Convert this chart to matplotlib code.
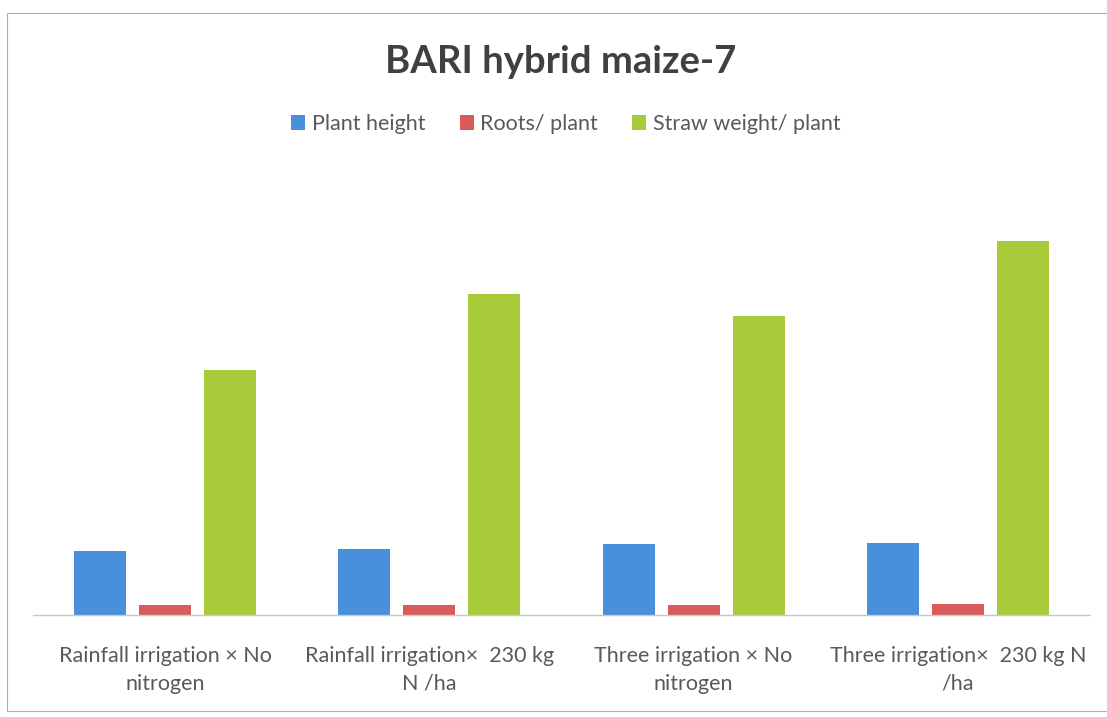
import matplotlib.pyplot as plt
import numpy as np
from matplotlib.patches import Rectangle

plt.rcParams['font.family'] = ['Lato', 'DejaVu Sans']

categories = ["Rainfall irrigation × No\nnitrogen",
              "Rainfall irrigation×  230 kg\nN /ha",
              "Three irrigation × No\nnitrogen",
              "Three irrigation×  230 kg N\n/ha"]
series = ["Plant height", "Roots/ plant", "Straw weight/ plant"]
plant_height = [64, 66, 71, 72]
roots_plant = [10, 10, 10, 11]
straw_weight = [245, 321, 299, 374]
colors = ["#4a8fdc", "#d95b5b", "#a8cb3c"]

fig = plt.figure(figsize=(11.07, 7.17), dpi=100)
ax = fig.add_axes([33/1107, 1 - 615/717, (1090 - 33)/1107, 415/717])

x = np.arange(len(categories))
w = 0.197
offs = [-0.246, 0, 0.246]
for vals, off, c, name in zip([plant_height, roots_plant, straw_weight], offs, colors, series):
    ax.bar(x + off, vals, width=w, color=c, label=name, zorder=2)

ax.set_xlim(-0.5, len(categories) - 0.5)
ax.set_ylim(0, 415)
ax.set_yticks([])
ax.set_xticks(x)
ax.set_xticklabels(categories, fontsize=15.5, color="#595959", linespacing=1.5)
ax.tick_params(axis='x', length=0, pad=22)
for s in ["top", "right", "left"]:
    ax.spines[s].set_visible(False)
ax.spines["bottom"].set_color("#c8c8c8")
ax.spines["bottom"].set_linewidth(1)

fig.text(0.506, 1 - 62/717, "BARI hybrid maize-7", ha="center", va="center",
         fontsize=27.5, fontweight="bold", color="#404040")

fig.legend(loc="center", bbox_to_anchor=(0.511, 1 - 124/717), ncol=3, frameon=False,
           fontsize=15.5, handlelength=0.65, handleheight=0.65, handletextpad=0.3,
           columnspacing=1.6, labelcolor="#595959")

fig.patches.append(Rectangle((7/1107, 1 - 711/717), 1.2, (711 - 13)/717,
                             transform=fig.transFigure, fill=False,
                             edgecolor="#b0b0b0", linewidth=0.8))

fig.savefig("out.png", dpi=100)
